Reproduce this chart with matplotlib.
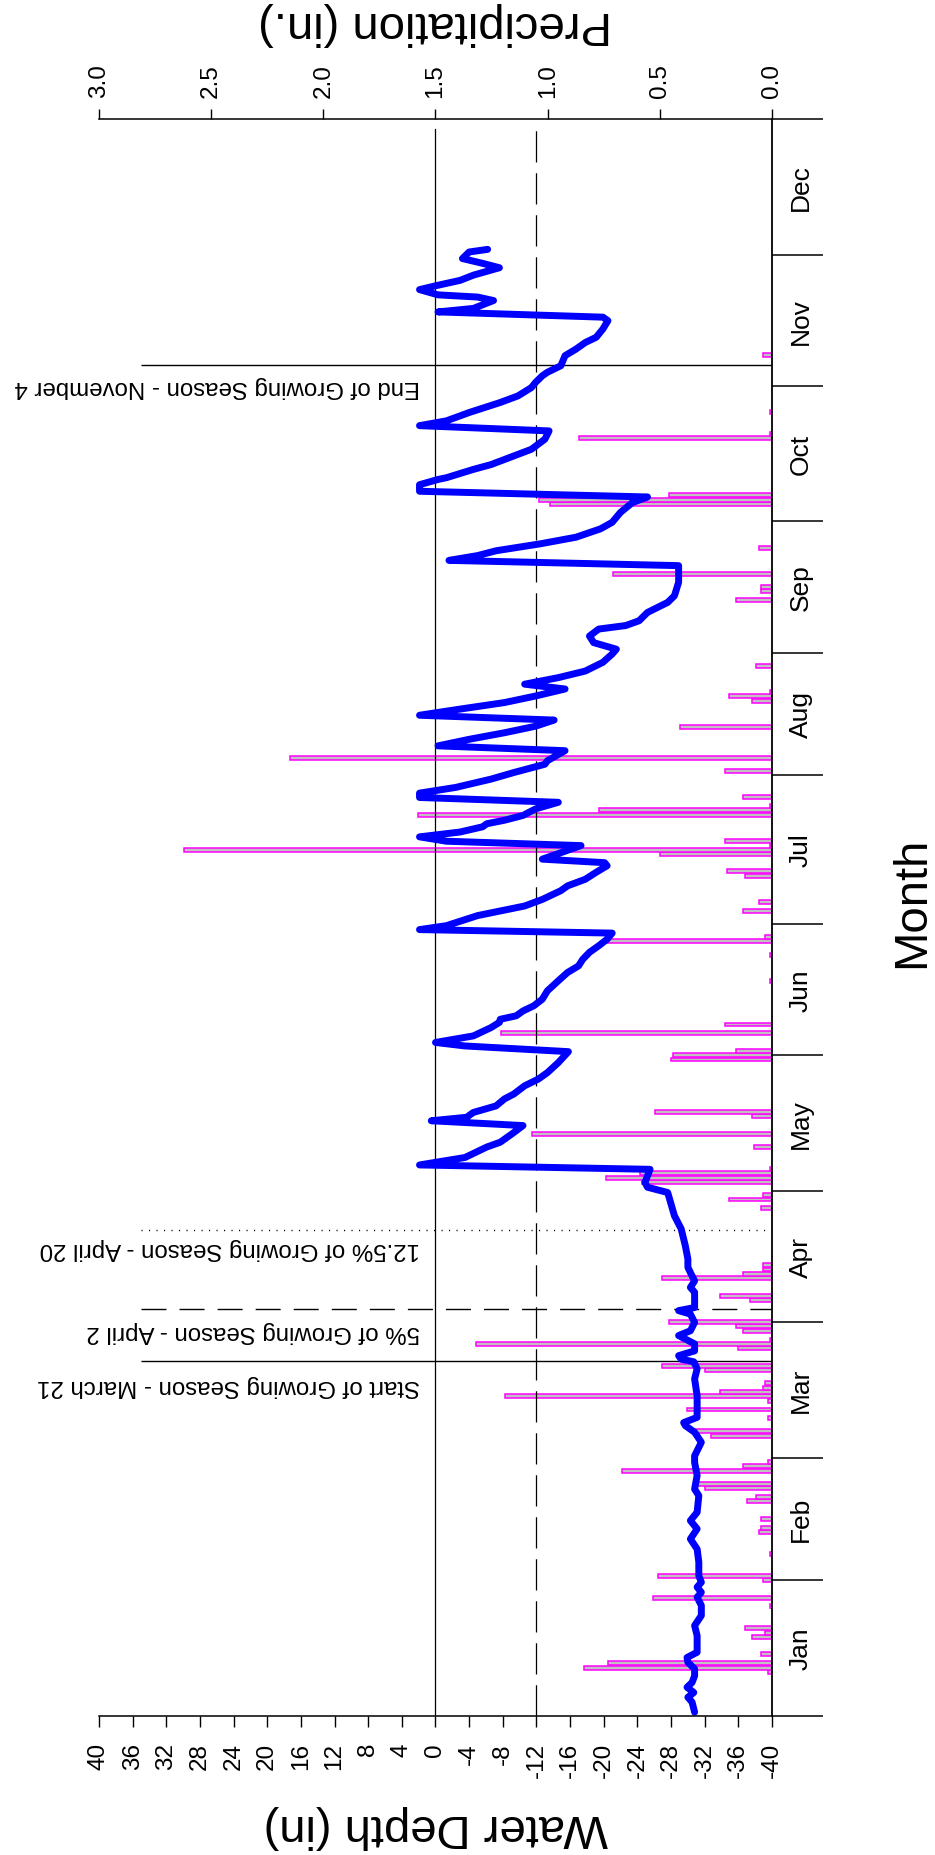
import numpy as np
import matplotlib
matplotlib.use("Agg")
import matplotlib.pyplot as plt

plt.rcParams['font.family'] = ['Liberation Sans', 'DejaVu Sans']
plt.rcParams['axes.unicode_minus'] = False

# water depth (in) vs day of year
depth_day = [0.8, 3.1, 4.2, 5.3, 6.5, 7.6, 9.1, 10.7, 12.2, 13.3, 14.5, 16.0, 18.3, 20.6, 22.9,
             25.2, 27.1, 28.2, 29.4, 30.5, 32.0, 35.1, 38.1, 40.4, 42.7, 44.6, 46.5, 50.3, 51.8,
             54.9, 57.9, 59.4, 62.5, 64.8, 66.3, 67.0, 68.2, 70.1, 73.1, 77.0, 79.3, 80.9, 81.5,
             82.3, 83.4, 85.0, 86.9, 88.0, 89.9, 91.8, 92.6, 93.3, 96.8, 97.9, 99.4, 101.3, 102.5,
             104.4, 107.4, 111.3, 114.3, 119.6, 120.8, 121.9, 123.4, 124.9,
             125.9, 127.6, 130.0, 131.1, 133.3, 134.9, 136.0, 136.8, 137.9, 139.4, 141.0, 142.1,
             144.0, 145.5, 147.0, 149.3, 151.8, 153.1, 153.9, 155.4, 157.3, 158.5, 159.2, 160.0,
             161.1, 162.3, 163.8, 165.7, 168.0, 169.9, 171.4, 172.9, 174.5, 176.0, 177.5, 178.9,
             179.7, 180.6, 182.9, 185.1, 186.6, 188.6, 189.7, 191.2, 192.8, 194.3, 195.0, 195.8,
             198.9, 199.9, 200.9, 202.0, 203.2, 203.9, 204.7, 205.8, 207.3, 208.8, 209.9, 210.9,
             212.2, 214.1, 215.6, 217.5, 218.3, 220.6, 221.7, 223.2, 224.7, 226.2, 227.6, 228.7,
             230.1, 231.6, 233.1, 234.7, 235.8, 237.3, 238.8, 240.8, 242.7, 243.8, 245.3, 246.8,
             248.4, 249.2, 250.3, 252.2, 254.5, 256.0, 259.1, 262.9, 264.1, 265.2, 266.3, 267.9,
             269.4, 271.3, 272.8, 275.1, 277.3, 278.6, 279.9, 281.4, 282.6, 283.0, 284.9, 286.0,
             287.6, 289.5, 291.8, 293.7, 294.9, 296.0, 297.9, 300.2, 301.7, 303.6, 304.8, 306.3,
             307.1, 308.6, 310.9, 312.4, 313.9, 315.1, 317.0, 318.9, 319.7, 320.9, 321.7, 323.5,
             324.3, 324.8, 326.0, 327.0, 328.1, 329.3, 331.0, 332.0, 333.1, 334.6, 335.2]
depth_in = [-30.8, -30.5, -30.0, -30.7, -29.9, -30.5, -30.8, -30.8, -30.0, -29.9, -31.1, -31.1,
            -31.1, -30.8, -31.6, -31.6, -31.1, -31.6, -31.1, -31.6, -31.3, -31.3, -31.1, -30.3,
            -31.1, -30.3, -31.1, -31.3, -30.8, -31.1, -30.8, -30.8, -31.6, -30.8, -29.7, -29.5,
            -31.1, -31.1, -31.1, -30.8, -31.1, -30.7, -29.2, -28.9, -30.8, -30.8, -28.9, -30.3,
            -30.8, -30.3, -28.9, -30.8, -30.8, -30.3, -30.8, -30.3, -30.0, -30.0, -29.7, -29.2,
            -28.4, -27.6, -25.2, -24.9, -25.2, -25.5,
            1.9, -3.5, -6.1, -7.7, -9.3, -10.4, 0.5, -3.7, -4.5, -7.2, -8.2, -9.3,
            -10.6, -12.2, -13.3, -14.6, -15.8, -3.5, 0.0, -4.5, -6.6, -7.6, -7.7, -9.6,
            -10.4, -11.7, -12.7, -13.3, -14.6, -15.7, -17.0, -17.5, -18.3, -19.4, -20.4, -21.0,
            1.9, -1.3, -5.0, -10.6, -12.7, -14.9, -15.7, -17.8, -19.1, -20.4, -20.1, -12.7,
            -17.3, -1.3, 1.9, -2.9, -5.6, -6.1, -8.2, -10.4, -11.9, -14.6, 1.9, 1.9,
            -2.4, -6.6, -9.3, -13.0, -13.3, -15.4, -0.3, -4.0, -8.2, -11.9, -14.1, 1.9,
            -2.9, -8.2, -11.9, -15.4, -10.6, -14.6, -17.8, -19.9, -21.0, -21.5, -18.8, -18.3,
            -19.4, -22.6, -24.2, -25.2, -27.6, -28.4, -28.9, -28.9, -1.6, -5.0, -7.2, -12.5,
            -16.7, -19.6, -21.0, -22.0, -23.4, -25.2, 1.9, 1.9, -0.3, -1.3, -4.5, -6.6,
            -8.8, -11.4, -13.0, -13.5, 1.9, -1.3, -4.0, -7.7, -9.8, -11.4, -11.9, -12.7,
            -13.3, -14.9, -15.4, -16.7, -17.8, -19.1, -19.9, -20.5, -19.9, -0.3, -4.5, -6.9,
            -5.0, -0.3, 1.9, -0.3, -2.9, -4.5, -7.6, -5.6, -3.2, -4.0, -6.2]

# daily precipitation (in.)
precip_day = [10, 11, 12, 14, 18, 19, 20, 25, 27, 31, 32, 37, 42, 43, 45, 49, 50, 52, 53, 56,
              57, 58, 64, 65, 68, 70, 72, 73, 74, 75, 76, 79, 80, 84, 85, 86, 88, 89, 90, 95,
              96, 100, 101, 102, 103, 116, 118, 119, 122, 123, 124, 125, 130, 133, 137, 138,
              150, 151, 152, 156, 158, 168, 174, 177, 178, 184, 186, 192, 193, 197, 198, 199,
              200, 206, 207, 208, 210, 216, 219, 226, 232, 233, 234, 240, 255, 257, 258, 261,
              267, 277, 278, 279, 292, 293, 298, 311]
precip_in = [0.02, 0.84, 0.73, 0.05, 0.09, 0.03, 0.12, 0.01, 0.53, 0.04, 0.51, 0.01, 0.06, 0.05,
             0.05, 0.11, 0.07, 0.30, 0.33, 0.67, 0.13, 0.02, 0.27, 0.35, 0.02, 0.38, 0.02, 1.19,
             0.23, 0.04, 0.03, 0.30, 0.49, 0.15, 1.32, 0.01, 0.13, 0.16, 0.46, 0.10, 0.23, 0.49,
             0.13, 0.04, 0.04, 0.05, 0.19, 0.04, 0.58, 0.74, 0.59, 0.01, 0.08, 1.07, 0.09, 0.52,
             0.45, 0.44, 0.16, 1.21, 0.21, 0.01, 0.01, 0.74, 0.03, 0.13, 0.06, 0.12, 0.20, 0.50,
             2.62, 0.01, 0.21, 1.58, 0.77, 0.01, 0.13, 0.21, 2.15, 0.41, 0.09, 0.19, 0.01, 0.07,
             0.16, 0.05, 0.05, 0.71, 0.06, 0.99, 1.04, 0.46, 0.86, 0.01, 0.01, 0.04]

months = ['Jan', 'Feb', 'Mar', 'Apr', 'May', 'Jun', 'Jul', 'Aug', 'Sep', 'Oct', 'Nov', 'Dec']
month_edges = [0, 31, 59, 90, 120, 151, 181, 215, 243, 273, 304, 334, 365]

season_days = [81.0, 93.0, 111.0, 308.8]
season_text = ['Start of Growing Season - March 21', '5% of Growing Season - April 2',
               '12.5% of Growing Season - April 20', 'End of Growing Season - November 4']
season_text_day = [75.5, 88.0, 107.0, 304.0]
season_style = ['-', (0, (18, 9.4)), (0, (0.8, 4.6)), '-']

depth_ticks = list(range(-40, 41, 4))
precip_ticks = [0.0, 0.5, 1.0, 1.5, 2.0, 2.5, 3.0]

fig = plt.figure(figsize=(9.35, 18.56), dpi=100)
ax = fig.add_axes([99 / 935, (1856 - 1716.7) / 1856, 673 / 935, 1596.7 / 1856])
ax2 = ax.twiny()

# precipitation bars (top axis, 0 on the right)
ax2.barh(precip_day, precip_in, height=0.9, left=0, color='#c0c0c0',
         edgecolor='#ff00ff', linewidth=1.1)
ax2.set_xlim(3, 0)
ax2.set_xticks(precip_ticks)
ax2.set_xticklabels([f'{v:.1f}' for v in precip_ticks])
ax2.tick_params(axis='x', top=True, bottom=False, direction='out', length=7, width=1,
                labelsize=17.5, labelrotation=90, pad=9)
for s in ['left', 'right', 'bottom']:
    ax2.spines[s].set_visible(False)
ax2.spines['top'].set_linewidth(1.1)
ax2.set_xlabel('Precipitation (in.)', fontsize=34, rotation=180, va='center', ha='center')
ax2.xaxis.set_label_position('top')
ax2.xaxis.set_label_coords(0.5, 1.0525)

# water depth on the main axis, drawn over the bars
ax.set_zorder(ax2.get_zorder() + 1)
ax.patch.set_visible(False)
ax.set_xlim(40, -40)
ax.set_ylim(0, 365)

ax.axvline(0, ymax=0.994, color='black', lw=0.9)
ax.axvline(-12, ymax=0.994, color='black', lw=0.9, linestyle=(0, (25, 8.6)))
for d, ls in zip(season_days, season_style):
    ax.hlines(d, 35, -40, colors='black', lw=1.0, linestyles=[ls])
for d, t in zip(season_text_day, season_text):
    ax.text(1.8, d, t, rotation=180, ha='right', va='center', fontsize=17.3)

ax.plot(depth_in, depth_day, color='#0000ff', lw=5, solid_joinstyle='round',
        solid_capstyle='round')

ax.set_xticks(depth_ticks)
ax.set_xticklabels([str(v) for v in depth_ticks])
ax.tick_params(axis='x', bottom=True, top=False, direction='out', length=8, width=1,
               labelsize=17.5, labelrotation=90, pad=11)
ax.set_xlabel('Water Depth (in)', fontsize=34, rotation=180, va='center', ha='center')
ax.xaxis.set_label_coords(0.5, -0.0691)

ax.yaxis.tick_right()
ax.set_yticks(month_edges)
ax.set_yticklabels([])
mids = [(a + b) / 2 for a, b in zip(month_edges[:-1], month_edges[1:])]
ax.set_yticks(mids, minor=True)
ax.set_yticklabels(months, minor=True, rotation=90, va='center', ha='left', fontsize=19)
ax.tick_params(axis='y', which='major', direction='out', length=37, width=1.1)
ax.tick_params(axis='y', which='minor', length=0, pad=12)
ax.yaxis.set_label_position('right')
ax.set_ylabel('Month', fontsize=34, rotation=90, va='center', ha='center')
ax.yaxis.set_label_coords(1.208, 0.51)

ax.spines['left'].set_visible(False)
ax.spines['top'].set_visible(False)
ax.spines['right'].set_linewidth(1.3)
ax.spines['bottom'].set_linewidth(1.1)

fig.savefig('out.png', dpi=100)
